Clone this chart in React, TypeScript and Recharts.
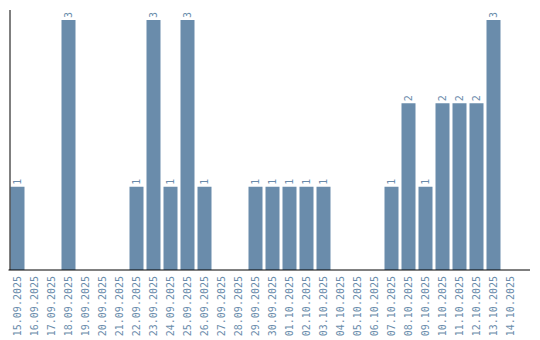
import { Bar, BarChart, LabelList, XAxis, YAxis } from "recharts";

const days = [
  "15.09.2025", "16.09.2025", "17.09.2025", "18.09.2025", "19.09.2025",
  "20.09.2025", "21.09.2025", "22.09.2025", "23.09.2025", "24.09.2025",
  "25.09.2025", "26.09.2025", "27.09.2025", "28.09.2025", "29.09.2025",
  "30.09.2025", "01.10.2025", "02.10.2025", "03.10.2025", "04.10.2025",
  "05.10.2025", "06.10.2025", "07.10.2025", "08.10.2025", "09.10.2025",
  "10.10.2025", "11.10.2025", "12.10.2025", "13.10.2025", "14.10.2025",
];

const counts = [
  1, 0, 0, 3, 0, 0, 0, 1, 3, 1,
  3, 1, 0, 0, 1, 1, 1, 1, 1, 0,
  0, 0, 1, 2, 1, 2, 2, 2, 3, 0,
];

const blue = "#6a8cab";
const font = "DejaVu Sans Mono";

const data = days.map((day, i) => ({ day, count: counts[i] }));

function DayTick({ x, y, payload }: any) {
  return (
    <text
      transform={`translate(${x},${y + 6}) rotate(-90)`}
      textAnchor="end"
      dominantBaseline="central"
      fill={blue}
      fontFamily={font}
      fontSize={10}
    >
      {payload.value}
    </text>
  );
}

function ValueLabel({ x, y, width, value }: any) {
  if (!value) return null;
  const cx = Number(x) + Number(width) / 2;
  return (
    <text
      transform={`translate(${cx},${Number(y) - 2}) rotate(-90)`}
      textAnchor="start"
      dominantBaseline="central"
      fill={blue}
      fontFamily={font}
      fontSize={10}
    >
      {value}
    </text>
  );
}

export default function App() {
  return (
    <div style={{ position: "absolute", left: 0, top: 0, background: "#fff" }}>
      <BarChart
        width={540}
        height={340}
        data={data}
        margin={{ top: 10, right: 10, left: 7.5, bottom: 0 }}
        barSize={14}
      >
        <XAxis
          dataKey="day"
          interval={0}
          tickLine={false}
          tickSize={0}
          tickMargin={0}
          axisLine={{ stroke: "#000" }}
          padding={{ left: 0, right: 11.5 }}
          tick={<DayTick />}
          height={70}
        />
        <YAxis
          width={1}
          tick={false}
          tickLine={false}
          domain={[0, 3.12]}
          axisLine={{ stroke: "#000", transform: "translate(1.5,0)" }}
        />
        <Bar dataKey="count" fill={blue} isAnimationActive={false}>
          <LabelList dataKey="count" content={<ValueLabel />} />
        </Bar>
      </BarChart>
    </div>
  );
}
